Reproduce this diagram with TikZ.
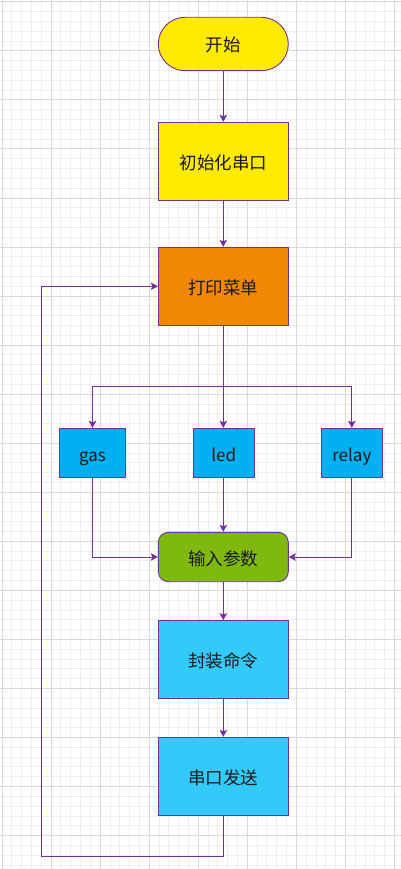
\documentclass[tikz,border=0pt]{standalone}
\usepackage{fontspec}
\setmainfont{Noto Sans CJK SC}
\usetikzlibrary{arrows.meta}
\definecolor{edge}{HTML}{7030A0}
\definecolor{gminor}{HTML}{EEEEEE}
\definecolor{gmajor}{HTML}{D8D8D8}
\definecolor{cyellow}{HTML}{FFEA00}
\definecolor{corange}{HTML}{F08705}
\definecolor{cblue}{HTML}{00B0F0}
\definecolor{cgreen}{HTML}{7FB90F}
\definecolor{csky}{HTML}{33C9F8}
\definecolor{txt}{HTML}{1A1A1A}
\tikzset{
  box/.style={draw=edge, line width=0.9pt, minimum width=130pt, minimum height=78pt, inner sep=0pt, text=txt, text height=16pt, text depth=0pt, font=\fontsize{17.5}{19}\selectfont},
  smallbox/.style={box, fill=cblue, minimum width=61pt, minimum height=49pt, text height=17pt, font=\fontsize{17}{19}\selectfont},
  arr/.style={draw=edge, line width=0.9pt, -{Stealth[length=7pt,width=7.5pt,inset=1.5pt]}},
  ln/.style={draw=edge, line width=0.9pt}
}
\begin{document}
\begin{tikzpicture}[x=1pt,y=-1pt]
\useasboundingbox (0,0) rectangle (401,869);
\fill[white] (0,0) rectangle (401,869);
% grid
\foreach \i in {0,...,41}{
  \pgfmathsetmacro\xx{2+9.81*\i}
  \draw[gminor, line width=0.8pt] (\xx,0) -- (\xx,869);
}
\foreach \i in {0,...,88}{
  \pgfmathsetmacro\yy{1.7+9.81*\i}
  \draw[gminor, line width=0.8pt] (0,\yy) -- (401,\yy);
}
\foreach \i in {0,...,8}{
  \pgfmathsetmacro\xx{2+49.05*\i}
  \draw[gmajor, line width=0.8pt] (\xx,0) -- (\xx,869);
}
\foreach \i in {0,...,17}{
  \pgfmathsetmacro\yy{1.7+49.05*\i}
  \draw[gmajor, line width=0.8pt] (0,\yy) -- (401,\yy);
}
% nodes
\node[box, fill=cyellow, minimum height=53.4pt, rounded corners=26.7pt] (start) at (223.3,44) {开始};
\node[box, fill=cyellow] (init) at (223.3,161.2) {初始化串口};
\node[box, fill=corange] (menu) at (223.3,286.3) {打印菜单};
\node[smallbox, minimum width=66.4pt] (gas) at (92.5,452.8) {gas};
\node[smallbox] (led) at (223.8,452.8) {led};
\node[smallbox] (relay) at (351.8,452.8) {relay};
\node[box, fill=cgreen, minimum height=49.4pt, rounded corners=10pt] (input) at (223.3,557) {输入参数};
\node[box, fill=csky, minimum height=77.4pt] (pack) at (223.3,659.3) {封装命令};
\node[box, fill=csky] (send) at (223.3,776.3) {串口发送};
\coordinate (br) at (223.3,386);
\coordinate (loop) at (41.5,856.7);
% connectors
\draw[arr] (start.south) -- (init.north);
\draw[arr] (init.south) -- (menu.north);
\draw[arr] (menu.south) -- (menu.south |- led.north);
\draw[arr] (br) -| (gas.north);
\draw[arr] (br) -| (relay.north);
\draw[arr] (gas.south) |- (input.west);
\draw[arr] (relay.south) |- (input.east);
\draw[arr] (led.south -| input.north) -- (input.north);
\draw[arr] (input.south) -- (pack.north);
\draw[arr] (pack.south) -- (send.north);
\draw[arr] (send.south) |- (loop) |- (menu.west);
\end{tikzpicture}
\end{document}
